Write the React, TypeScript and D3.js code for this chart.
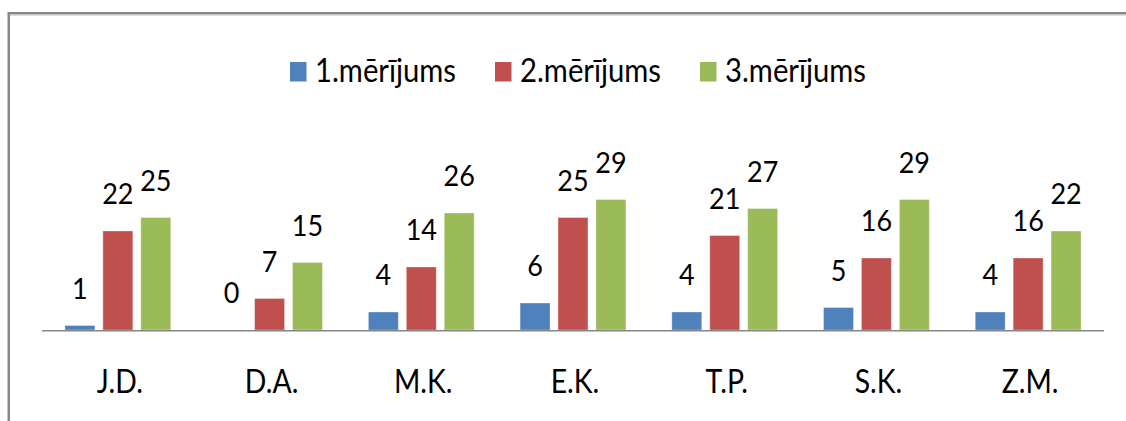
import React from 'react';
import * as d3 from 'd3';

const categories = ['J.D.', 'D.A.', 'M.K.', 'E.K.', 'T.P.', 'S.K.', 'Z.M.'];
const seriesNames = ['1.mērījums', '2.mērījums', '3.mērījums'];
const seriesColors = ['#4F81BD', '#C0504D', '#9BBB59'];
const measure1 = [1, 0, 4, 6, 4, 5, 4];
const measure2 = [22, 7, 14, 25, 21, 16, 16];
const measure3 = [25, 15, 26, 29, 27, 29, 22];
const allSeries = [measure1, measure2, measure3];

const width = 1126;
const height = 421;
const plotLeft = 42;
const plotRight = 1104;
const baseline = 330;
const font = 'Lato, "Open Sans", "DejaVu Sans", sans-serif';

export default function App() {
  const x0 = d3.scaleBand<string>()
    .domain(categories)
    .range([plotLeft, plotRight]);

  const x1 = d3.scaleBand<string>()
    .domain(seriesNames)
    .range([0, x0.bandwidth()])
    .paddingInner(0.21)
    .paddingOuter(0.605);

  const y = d3.scaleLinear()
    .domain([0, 30])
    .range([baseline, baseline - 135]);

  const legendX = d3.scaleLinear()
    .domain([0, 1])
    .range([290, 495]);

  return (
    <svg
      width={width}
      height={height}
      style={{ position: 'absolute', left: 0, top: 0, background: '#fff' }}
    >
      {/* frame */}
      <rect x={8.75} y={13.25} width={1300} height={600} fill="none" stroke="#878787" strokeWidth={2.5} />
      <line x1={10} x2={width} y1={15.2} y2={15.2} stroke="#d0d0d0" strokeWidth={1} />

      {/* legend */}
      {seriesNames.map((name, i) => (
        <g key={name} transform={`translate(${legendX(i)},0)`}>
          <rect x={0} y={62} width={16.5} height={19.5} fill={seriesColors[i]} />
          <text
            x={25}
            y={82}
            fontFamily={font}
            fontSize={32}
            fill="#000"
            textLength={141}
            lengthAdjust="spacingAndGlyphs"
          >
            {name}
          </text>
        </g>
      ))}

      {/* bars */}
      {categories.map((cat, ci) => (
        <g key={cat} transform={`translate(${x0(cat)},0)`}>
          {allSeries.map((values, si) => {
            const v = values[ci];
            const bx = x1(seriesNames[si]) as number;
            return (
              <g key={si}>
                <rect
                  x={bx}
                  y={y(v)}
                  width={x1.bandwidth()}
                  height={baseline - y(v)}
                  fill={seriesColors[si]}
                  stroke="#ffffff"
                  strokeOpacity={0.35}
                  strokeWidth={1}
                />
                <text
                  transform={`translate(${bx + x1.bandwidth() / 2},${y(v) - 27}) scale(0.93,1)`}
                  textAnchor="middle"
                  fontFamily={font}
                  fontSize={29}
                  fill="#000"
                >
                  {v}
                </text>
              </g>
            );
          })}
        </g>
      ))}

      {/* axis */}
      <line x1={plotLeft} x2={plotRight} y1={baseline + 0.75} y2={baseline + 0.75} stroke="#868686" strokeWidth={1.5} />

      {categories.map((cat) => (
        <text
          key={cat}
          transform={`translate(${(x0(cat) as number) + x0.bandwidth() / 2 + 2},393) scale(0.86,1)`}
          textAnchor="middle"
          fontFamily={font}
          fontSize={33}
          fill="#000"
        >
          {cat}
        </text>
      ))}
    </svg>
  );
}
